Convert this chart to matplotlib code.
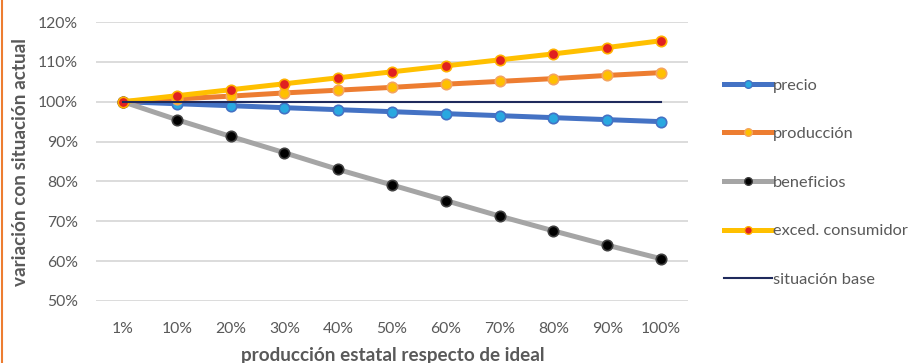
import matplotlib
matplotlib.use("Agg")
import matplotlib.pyplot as plt
from matplotlib.lines import Line2D
from matplotlib.ticker import FuncFormatter

plt.rcParams['font.family'] = ['Lato', 'DejaVu Sans']

categories = ["1%", "10%", "20%", "30%", "40%", "50%", "60%", "70%", "80%", "90%", "100%"]
precio = [100.0, 99.5, 99.0, 98.5, 98.0, 97.5, 97.0, 96.5, 96.0, 95.5, 95.0]
produccion = [100.0, 100.7, 101.4, 102.2, 102.9, 103.6, 104.4, 105.1, 105.8, 106.6, 107.3]
beneficios = [100.0, 95.5, 91.3, 87.2, 83.0, 79.1, 75.2, 71.3, 67.6, 64.0, 60.6]
exced_consumidor = [100.0, 101.5, 103.0, 104.5, 106.0, 107.5, 109.0, 110.5, 112.0, 113.6, 115.3]
situacion_base = [100.0] * len(categories)

fig = plt.figure(figsize=(9.12, 3.63), dpi=100)
ax = fig.add_axes([96 / 912, 1 - 301 / 363, 592 / 912, 279 / 363])

x = list(range(len(categories)))
lw = 3.6
ms = 7.5
series = [
    (precio, "precio", "#4472C4", "#29A8E0", "#4472C4"),
    (produccion, "producción", "#ED7D31", "#FFC000", "#F4A460"),
    (beneficios, "beneficios", "#A5A5A5", "#000000", "#404040"),
    (exced_consumidor, "exced. consumidor", "#FFC000", "#E02020", "#FFB000"),
]
handles = []
for vals, name, lc, mfc, mec in series:
    ax.plot(x, vals, color=lc, lw=lw, marker="o", ms=ms,
            mfc=mfc, mec=mec, mew=1.2, solid_capstyle="round", zorder=3)
    handles.append(Line2D([], [], color=lc, lw=lw, marker="o", ms=5.5,
                          mfc=mfc, mec=mec, mew=1.0))
ax.plot(x, situacion_base, color="#1F2A5C", lw=1.5, zorder=4)
handles.append(Line2D([], [], color="#1F2A5C", lw=1.5))

ax.set_xlim(-0.5, len(categories) - 0.5)
ax.set_ylim(50, 120)
ax.set_yticks(range(50, 121, 10))
ax.yaxis.set_major_formatter(FuncFormatter(lambda v, p: f"{v:.0f}%"))
ax.set_xticks(x)
ax.set_xticklabels(categories)
ax.grid(axis="y", color="#D9D9D9", lw=1.3)
ax.set_axisbelow(True)
for s in ax.spines.values():
    s.set_visible(False)
ax.tick_params(axis="both", length=0, labelsize=11.3, labelcolor="#595959")
ax.tick_params(axis="y", pad=13)
ax.tick_params(axis="x", pad=15)

fig.text(21 / 912, 1 - 162 / 363, "variación con situación actual", rotation=90,
         ha="center", va="center", fontsize=13.6, fontweight="bold", color="#595959")
fig.text(393 / 912, 1 - 355 / 363, "producción estatal respecto de ideal",
         ha="center", va="center", fontsize=13.6, fontweight="bold", color="#595959")

labels = ["precio", "producción", "beneficios", "exced. consumidor", "situación base"]
leg = fig.legend(handles, labels, loc="upper left", bbox_to_anchor=(716 / 912, 1 - 70 / 363),
                 frameon=False, fontsize=11.8, labelspacing=2.08, handlelength=2.9,
                 handletextpad=0.1, borderpad=0)
for t in leg.get_texts():
    t.set_color("#595959")

fig.add_artist(Line2D([2 / 912, 2 / 912], [0, 1], color="#ED7D31", lw=1.5,
                      transform=fig.transFigure))

fig.savefig("out.png", dpi=100)
